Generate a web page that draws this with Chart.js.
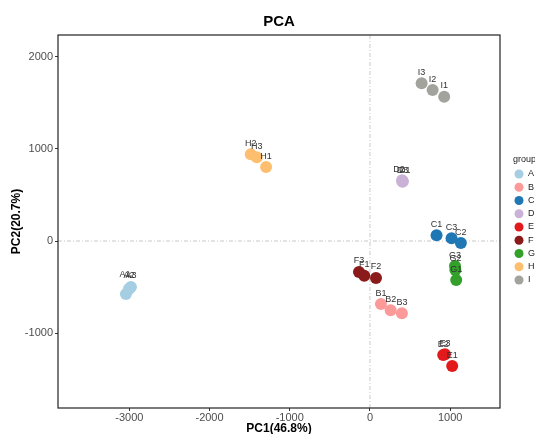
<!DOCTYPE html>
<html>
<head>
<meta charset="utf-8">
<script src="https://cdn.jsdelivr.net/npm/chart.js@4.4.1/dist/chart.umd.min.js"></script>
<style>
  html, body { margin: 0; padding: 0; background: #fff; }
  #wrap { width: 535px; height: 434px; position: relative; }
</style>
</head>
<body>
<div id="wrap"><canvas id="pcaChart"></canvas></div>
<script>
// PCA scores, one entry per sample
const groups = ['A', 'B', 'C', 'D', 'E', 'F', 'G', 'H', 'I'];
const groupColors = ['#A6CEE3', '#FB9A99', '#1F78B4', '#CAB2D6', '#E31A1C', '#8B1A1A', '#33A02C', '#FDBF6F', '#A3A39E'];

const sampleNames = ['A1', 'A2', 'A3', 'B1', 'B2', 'B3', 'C1', 'C2', 'C3',
                     'D1', 'D2', 'D3', 'E1', 'E2', 'E3', 'F1', 'F2', 'F3',
                     'G1', 'G2', 'G3', 'H1', 'H2', 'H3', 'I1', 'I2', 'I3'];
const pc1 = [-3042, -3005, -2980, 137, 258, 398, 830, 1133, 1017,
             410, 400, 405, 1025, 913, 935, -71, 75, -137,
             1075, 1065, 1060, -1295, -1486, -1411, 925, 781, 644];
const pc2 = [-576, -522, -500, -685, -753, -786, 62, -22, 29,
             650, 660, 645, -1359, -1240, -1230, -377, -402, -337,
             -424, -315, -272, 804, 942, 909, 1569, 1641, 1714];

const xTicks = [-3000, -2000, -1000, 0, 1000];
const yTicks = [-1000, 0, 1000, 2000];

const FONT = '"Liberation Sans", Arial, sans-serif';

// small shifts so crowded labels stack like the repelled ones
const labelNudge = { A1: [-1, -8], A2: [0, -3], D1: [2, 0], D2: [-3, 0] };

const datasets = groups.map((g, gi) => {
    const pts = [];
    sampleNames.forEach((name, i) => {
        if (name.startsWith(g)) pts.push({ x: pc1[i], y: pc2[i], name });
    });
    return {
        label: g,
        data: pts,
        backgroundColor: groupColors[gi],
        borderWidth: 0,
        pointRadius: 6,
        pointHoverRadius: 6
    };
});

// frame, zero reference lines, sample labels, titles and legend
const decorPlugin = {
    id: 'decor',
    beforeDatasetsDraw(chart) {
        const { ctx, chartArea: a, scales } = chart;
        const x0 = scales.x.getPixelForValue(0);
        const y0 = scales.y.getPixelForValue(0);
        ctx.save();
        ctx.strokeStyle = '#C8C8C8';
        ctx.lineWidth = 1;
        ctx.setLineDash([4, 2, 1, 2]);
        ctx.beginPath();
        ctx.moveTo(x0, a.top); ctx.lineTo(x0, a.bottom);
        ctx.moveTo(a.left, y0); ctx.lineTo(a.right, y0);
        ctx.stroke();
        ctx.restore();
    },
    afterDatasetsDraw(chart) {
        const { ctx, chartArea: a } = chart;
        ctx.save();
        // sample labels above each point
        ctx.font = '9px ' + FONT;
        ctx.fillStyle = '#333';
        ctx.textAlign = 'center';
        ctx.textBaseline = 'middle';
        chart.data.datasets.forEach((ds, di) => {
            chart.getDatasetMeta(di).data.forEach((el, i) => {
                const name = ds.data[i].name;
                const [dx, dy] = labelNudge[name] || [0, 0];
                ctx.fillText(name, el.x + dx, el.y - 11 + dy);
            });
        });

        // panel border
        ctx.strokeStyle = '#222';
        ctx.lineWidth = 1.2;
        ctx.strokeRect(a.left, a.top, a.right - a.left, a.bottom - a.top);

        // title and axis titles
        const cx = (a.left + a.right) / 2;
        ctx.fillStyle = '#000';
        ctx.font = 'bold 15px ' + FONT;
        ctx.fillText('PCA', cx, 22);
        ctx.font = 'bold 12px ' + FONT;
        ctx.fillText('PC1(46.8%)', cx, 429);
        ctx.save();
        ctx.translate(17, (a.top + a.bottom) / 2);
        ctx.rotate(-Math.PI / 2);
        ctx.fillText('PC2(20.7%)', 0, 0);
        ctx.restore();

        // legend
        ctx.textAlign = 'left';
        ctx.font = '9px ' + FONT;
        ctx.fillStyle = '#222';
        ctx.fillText('group', 513, 160);
        groups.forEach((g, gi) => {
            const y = 174 + gi * 13.25;
            ctx.beginPath();
            ctx.arc(519, y, 4.5, 0, Math.PI * 2);
            ctx.fillStyle = groupColors[gi];
            ctx.fill();
            ctx.fillStyle = '#222';
            ctx.fillText(g, 528, y);
        });
        ctx.restore();
    }
};

new Chart(document.getElementById('pcaChart'), {
    type: 'scatter',
    data: { datasets },
    options: {
        responsive: true,
        maintainAspectRatio: false,
        animation: false,
        events: [],
        layout: { padding: { top: 35, right: 35, left: 0, bottom: 0 } },
        plugins: {
            legend: { display: false },
            tooltip: { enabled: false }
        },
        scales: {
            x: {
                type: 'linear',
                min: -3889,
                max: 1621,
                afterBuildTicks: s => { s.ticks = xTicks.map(v => ({ value: v })); },
                afterFit: s => { s.height = 26; },
                grid: { drawOnChartArea: false, tickLength: 3, color: '#333' },
                border: { display: false },
                ticks: { color: '#4D4D4D', font: { size: 11, family: FONT }, padding: 0, maxRotation: 0, callback: v => String(v) }
            },
            y: {
                type: 'linear',
                min: -1815,
                max: 2239,
                afterBuildTicks: s => { s.ticks = yTicks.map(v => ({ value: v })); },
                afterFit: s => { s.width = 58; },
                grid: { drawOnChartArea: false, tickLength: 3, color: '#333' },
                border: { display: false },
                ticks: { color: '#4D4D4D', font: { size: 11, family: FONT }, padding: 2, callback: v => String(v) }
            }
        }
    },
    plugins: [decorPlugin]
});
</script>
</body>
</html>
